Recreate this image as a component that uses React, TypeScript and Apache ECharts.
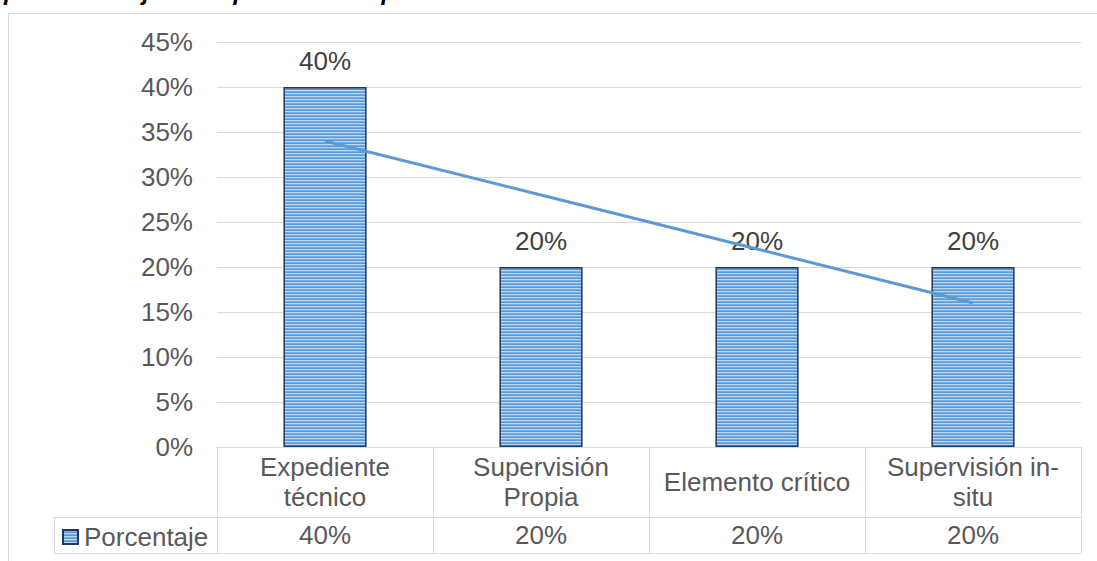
import React, { useEffect, useRef } from "react";
import * as echarts from "echarts";

const categories = ["Expediente\ntécnico", "Supervisión\nPropia", "Elemento crítico", "Supervisión in-\nsitu"];
const porcentaje = [40, 20, 20, 20];
const tendencia = [34, 28, 22, 16];
const seriesName = "Porcentaje";
const yTicks = { min: 0, max: 45, interval: 5 };

const stripeSvg =
  "data:image/svg+xml;utf8," +
  encodeURIComponent(
    "<svg xmlns='http://www.w3.org/2000/svg' width='4' height='3'><rect width='4' height='3' fill='#bcd5f0'/><rect y='1.3' width='4' height='1.7' fill='#5b9bd5'/></svg>"
  );

export default function App() {
  const ref = useRef<HTMLDivElement>(null);
  useEffect(() => {
    if (!ref.current) return;
    const chart = echarts.init(ref.current, undefined, { renderer: "svg" });
    const font = "'Liberation Sans', Arial, sans-serif";
    const grey = "#595959";
    const lineC = "#d9d9d9";
    const fs = 26;
    chart.setOption({
      animation: false,
      textStyle: { fontFamily: font },
      grid: { left: 217, right: 16, top: 42, bottom: 114 },
      legend: {
        data: [seriesName],
        left: 57,
        top: 519,
        icon: "rect",
        itemWidth: 15,
        itemHeight: 14,
        itemGap: 5,
        textStyle: { fontSize: fs, color: grey, fontFamily: font, padding: [0, 0, 0, 1] },
      },
      xAxis: [
        {
          type: "category",
          data: categories,
          axisLine: { show: true, lineStyle: { color: lineC, width: 1 } },
          axisTick: { show: true, length: 106, interval: 0, lineStyle: { color: lineC, width: 1 } },
          axisLabel: {
            interval: 0,
            fontSize: fs,
            color: grey,
            lineHeight: 30,
            verticalAlign: "middle",
            margin: 35,
            fontFamily: font,
          },
        },
        {
          type: "category",
          position: "bottom",
          data: categories,
          axisLine: { show: false },
          axisTick: { show: false },
          axisLabel: {
            interval: 0,
            fontSize: fs,
            color: grey,
            verticalAlign: "middle",
            margin: 88,
            fontFamily: font,
            formatter: (_v: string, i: number) => porcentaje[i] + "%",
          },
        },
      ],
      yAxis: {
        type: "value",
        min: yTicks.min,
        max: yTicks.max,
        interval: yTicks.interval,
        axisLine: { show: false },
        axisTick: { show: false },
        splitLine: { lineStyle: { color: lineC, width: 1 } },
        axisLabel: { formatter: "{value}%", fontSize: fs, color: grey, margin: 24, fontFamily: font },
      },
      graphic: [
        { type: "line", shape: { x1: 54, y1: 517.5, x2: 1081, y2: 517.5 }, style: { stroke: lineC, lineWidth: 1 } },
        { type: "line", shape: { x1: 54, y1: 553.5, x2: 1081, y2: 553.5 }, style: { stroke: lineC, lineWidth: 1 } },
        { type: "line", shape: { x1: 54.5, y1: 517, x2: 54.5, y2: 554 }, style: { stroke: lineC, lineWidth: 1 } },
      ],
      series: [
        {
          name: seriesName,
          type: "bar",
          data: porcentaje,
          barWidth: "38.5%",
          itemStyle: {
            color: { image: stripeSvg, repeat: "repeat", imageWidth: 4, imageHeight: 3 },
            borderColor: "#1f3864",
            borderWidth: 1.5,
          },
          label: {
            show: true,
            position: "top",
            distance: 13,
            formatter: "{c}%",
            fontSize: fs,
            color: "#404040",
            fontFamily: font,
          },
        },
        {
          name: "Tendencia",
          type: "line",
          data: tendencia,
          symbol: "none",
          lineStyle: { color: "#5b9bd5", width: 3 },
          z: 5,
        },
      ],
    });
    return () => chart.dispose();
  }, []);

  return (
    <div style={{ position: "fixed", left: 0, top: 0, width: 1097, height: 561, overflow: "hidden", background: "#fff" }}>
      <div
        style={{
          position: "absolute",
          left: -4,
          top: -22,
          fontFamily: "'Liberation Sans', Arial, sans-serif",
          fontStyle: "italic",
          fontWeight: "bold",
          fontSize: 24,
          color: "#000",
          whiteSpace: "nowrap",
        }}
      >
        que están bajo su supervisión o aplicación
      </div>
      <div
        style={{
          position: "absolute",
          left: 8,
          top: 13,
          width: 1200,
          height: 700,
          border: "1px solid #d9d9d9",
        }}
      />
      <div ref={ref} style={{ position: "absolute", left: 0, top: 0, width: 1097, height: 561 }} />
    </div>
  );
}
